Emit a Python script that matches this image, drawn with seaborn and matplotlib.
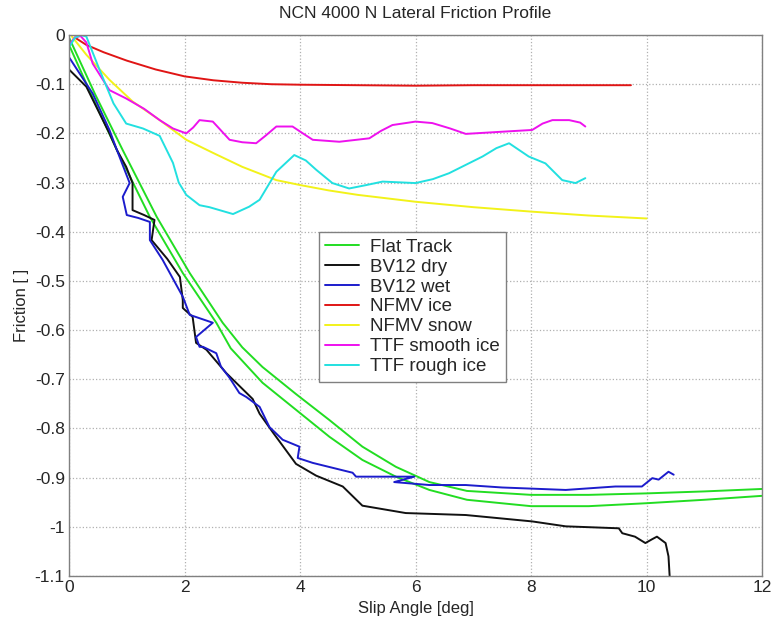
"""NCN 4000 N lateral friction profile, redrawn from the MATLAB figure."""

import matplotlib
matplotlib.use("Agg")
import matplotlib.pyplot as plt
import seaborn as sns

# slip angle [deg] / friction [] per surface
flat_a_x = [0.0, 0.4, 0.83, 1.4, 1.97, 2.55, 2.8, 3.35, 3.93, 4.51, 5.08, 5.66, 6.24, 6.89, 8.0, 9.0, 10.0, 11.0, 12.0]
flat_a_y = [-0.02, -0.125, -0.234, -0.37, -0.484, -0.585, -0.637, -0.707, -0.762, -0.817, -0.864, -0.898, -0.925, -0.945, -0.958, -0.958, -0.952, -0.945, -0.937]
flat_b_x = [0.0, 0.45, 0.93, 1.52, 2.09, 2.66, 3.0, 3.35, 3.93, 4.51, 5.08, 5.66, 6.24, 6.89, 8.0, 9.0, 10.0, 11.0, 12.0]
flat_b_y = [-0.005, -0.12, -0.234, -0.37, -0.484, -0.585, -0.635, -0.675, -0.73, -0.783, -0.837, -0.878, -0.909, -0.927, -0.935, -0.935, -0.932, -0.928, -0.923]

dry_x = [0.0, 0.3, 0.7, 0.83, 0.99, 1.1, 1.1, 1.3, 1.48, 1.43, 1.7, 1.92, 1.97, 1.97, 2.14, 2.2, 2.38,
         2.72, 3.18, 3.3, 3.53, 3.93, 4.28, 4.74, 5.08, 5.83, 6.87, 8.02, 8.6, 9.52, 9.58, 9.8, 9.98,
         10.1, 10.18, 10.33, 10.38, 10.4]
dry_y = [-0.07, -0.105, -0.2, -0.234, -0.268, -0.301, -0.356, -0.366, -0.376, -0.417, -0.455, -0.492, -0.539,
         -0.555, -0.573, -0.626, -0.64, -0.687, -0.74, -0.77, -0.808, -0.872, -0.896, -0.918, -0.957, -0.972,
         -0.976, -0.989, -0.999, -1.003, -1.013, -1.02, -1.033, -1.025, -1.02, -1.033, -1.06, -1.1]

wet_x = [0.0, 0.41, 0.7, 0.83, 1.05, 0.93, 1.0, 1.2, 1.4, 1.4, 1.62, 1.97, 2.09, 2.49, 2.2, 2.26, 2.32,
         2.55, 2.63, 2.78, 2.95, 3.07, 3.3, 3.47, 3.7, 3.99, 3.96, 4.22, 4.91, 4.97, 5.98, 5.63, 6.24,
         6.87, 7.5, 8.6, 9.46, 9.92, 10.1, 10.21, 10.38, 10.47]
wet_y = [-0.045, -0.119, -0.193, -0.234, -0.301, -0.329, -0.366, -0.372, -0.38, -0.417, -0.457, -0.532,
         -0.569, -0.585, -0.614, -0.634, -0.634, -0.647, -0.674, -0.697, -0.728, -0.736, -0.756, -0.797,
         -0.823, -0.837, -0.86, -0.87, -0.89, -0.898, -0.898, -0.909, -0.915, -0.915, -0.92, -0.925,
         -0.918, -0.918, -0.901, -0.904, -0.888, -0.894]

nfmv_ice_x = [0.1, 0.3, 0.6, 1.0, 1.5, 2.0, 2.5, 3.0, 3.5, 4.0, 5.0, 6.0, 7.0, 8.0, 9.0, 9.73]
nfmv_ice_y = [-0.005, -0.02, -0.035, -0.052, -0.07, -0.084, -0.092, -0.097, -0.1, -0.101, -0.102, -0.103,
              -0.102, -0.102, -0.102, -0.102]

nfmv_snow_x = [0.05, 0.3, 0.7, 1.1, 1.57, 2.03, 2.5, 3.0, 3.59, 4.0, 4.5, 5.0, 6.0, 7.0, 8.0, 9.0, 10.0]
nfmv_snow_y = [-0.003, -0.04, -0.091, -0.135, -0.173, -0.213, -0.24, -0.268, -0.295, -0.305, -0.316,
               -0.325, -0.339, -0.35, -0.359, -0.367, -0.373]

smooth_x = [0.0, 0.1, 0.2, 0.3, 0.41, 0.7, 0.99, 1.3, 1.57, 1.8, 2.03, 2.15, 2.26, 2.49, 2.6, 2.78, 3.0,
            3.24, 3.4, 3.59, 3.87, 4.05, 4.22, 4.68, 5.2, 5.4, 5.6, 6.0, 6.29, 6.6, 6.87, 7.44, 8.02, 8.2,
            8.37, 8.66, 8.85, 8.94]
smooth_y = [-0.02, -0.005, -0.002, -0.015, -0.058, -0.112, -0.129, -0.15, -0.173, -0.19, -0.2, -0.188,
            -0.173, -0.176, -0.19, -0.213, -0.218, -0.22, -0.205, -0.186, -0.186, -0.2, -0.213, -0.217,
            -0.21, -0.195, -0.183, -0.176, -0.179, -0.19, -0.201, -0.197, -0.193, -0.18, -0.173, -0.173,
            -0.178, -0.186]

rough_x = [0.0, 0.1, 0.2, 0.3, 0.53, 0.77, 0.99, 1.28, 1.57, 1.8, 1.9, 2.03, 2.26, 2.43, 2.84, 3.12, 3.3,
           3.59, 3.9, 4.1, 4.28, 4.56, 4.85, 5.15, 5.43, 6.0, 6.3, 6.58, 7.16, 7.4, 7.62, 7.96, 8.25,
           8.54, 8.77, 8.94]
rough_y = [-0.025, -0.006, 0.0, -0.003, -0.071, -0.139, -0.18, -0.19, -0.205, -0.26, -0.3, -0.325, -0.346,
           -0.35, -0.364, -0.349, -0.335, -0.278, -0.244, -0.255, -0.274, -0.301, -0.312, -0.305, -0.298,
           -0.301, -0.293, -0.281, -0.247, -0.23, -0.22, -0.247, -0.261, -0.295, -0.301, -0.291]

x_ticks = [0, 2, 4, 6, 8, 10, 12]
y_ticks = [0, -0.1, -0.2, -0.3, -0.4, -0.5, -0.6, -0.7, -0.8, -0.9, -1, -1.1]
y_tick_labels = ["0", "-0.1", "-0.2", "-0.3", "-0.4", "-0.5", "-0.6", "-0.7", "-0.8", "-0.9", "-1", "-1.1"]

sns.set_style("white")
plt.rcParams["font.family"] = ["Liberation Sans", "DejaVu Sans"]
plt.rcParams["axes.unicode_minus"] = False

fig = plt.figure(figsize=(7.72, 6.28), dpi=100)
ax = fig.add_axes([0.0894, 0.0828, 0.8977, 0.8614])

lw = 1.4
sns.lineplot(x=flat_a_x, y=flat_a_y, sort=False, estimator=None, color="#22dd22", lw=lw, label="Flat Track", ax=ax)
sns.lineplot(x=flat_b_x, y=flat_b_y, sort=False, estimator=None, color="#22dd22", lw=lw, label="_nolegend_", ax=ax)
sns.lineplot(x=dry_x, y=dry_y, sort=False, estimator=None, color="#111111", lw=lw, label="BV12 dry", ax=ax)
sns.lineplot(x=wet_x, y=wet_y, sort=False, estimator=None, color="#1c1ccc", lw=lw, label="BV12 wet", ax=ax)
sns.lineplot(x=nfmv_ice_x, y=nfmv_ice_y, sort=False, estimator=None, color="#e01515", lw=lw, label="NFMV ice", ax=ax)
sns.lineplot(x=nfmv_snow_x, y=nfmv_snow_y, sort=False, estimator=None, color="#f2f21a", lw=lw, label="NFMV snow", ax=ax)
sns.lineplot(x=smooth_x, y=smooth_y, sort=False, estimator=None, color="#ee11ee", lw=lw, label="TTF smooth ice", ax=ax)
sns.lineplot(x=rough_x, y=rough_y, sort=False, estimator=None, color="#22e0e0", lw=lw, label="TTF rough ice", ax=ax)

ax.set_xlim(0, 12)
ax.set_ylim(-1.1, 0)
ax.set_xticks(x_ticks)
ax.set_yticks(y_ticks)
ax.set_yticklabels(y_tick_labels)
ax.tick_params(direction="in", length=4, labelsize=12.5, color="#808080", pad=3)
ax.grid(True, linestyle=":", color="#b0b0b0", linewidth=0.9)
for sp in ax.spines.values():
    sp.set_color("#808080")
    sp.set_linewidth(1.0)

ax.set_title("NCN 4000 N Lateral Friction Profile", fontsize=12.5, pad=12.5)
ax.set_xlabel("Slip Angle [deg]", fontsize=12, labelpad=4)
ax.set_ylabel("Friction [ ]", fontsize=12, labelpad=4)

leg = ax.legend(loc="upper left", bbox_to_anchor=(0.36, 0.636), borderaxespad=0, fontsize=13.5,
                fancybox=False, framealpha=1, edgecolor="#808080", handlelength=1.8,
                handletextpad=0.6, labelspacing=0.15, borderpad=0.35)
leg.get_frame().set_linewidth(1.0)

fig.savefig("out.png", dpi=100)
